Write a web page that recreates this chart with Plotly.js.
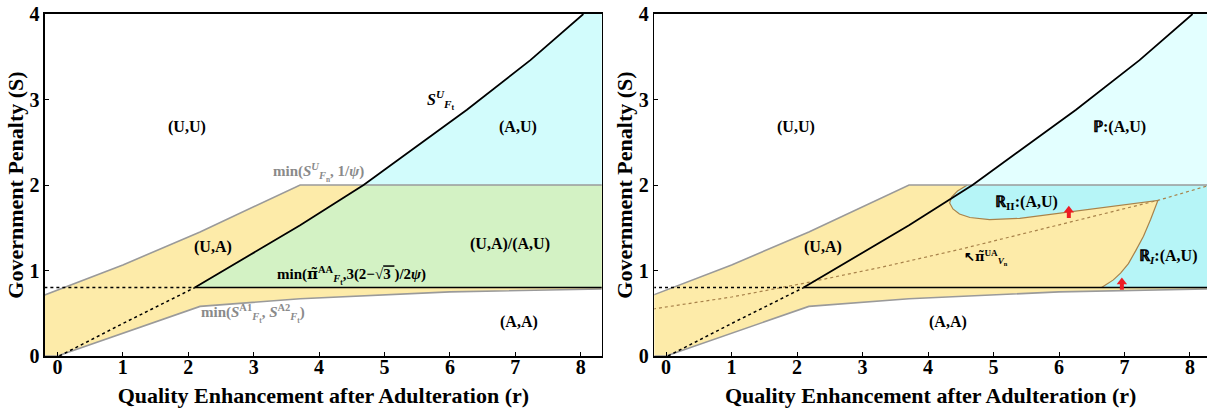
<!DOCTYPE html>
<html><head><meta charset="utf-8">
<script src="https://cdn.plot.ly/plotly-3.0.1.min.js"></script>
<style>html,body{margin:0;padding:0;background:#fff}</style>
</head><body>
<div id="chart" style="width:1207px;height:419px"></div>
<script>
// ---------- data ----------
const xTicks = [0, 1, 2, 3, 4, 5, 6, 7, 8];
const yTicks = [0, 1, 2, 3, 4];
const xEnd = 8.4;
// upper gray boundary  min(S_Fn^U, 1/psi)
const upperR = [-0.2, 0, 1, 2.18, 3.0, 3.71, 8.4];
const upperS = [0.712, 0.772, 1.065, 1.45, 1.74, 2.0, 2.0];
// lower gray boundary  min(S_Ft^A1, S_Ft^A2)
const lowerR = [-0.2, 0.0, 2.18, 3.71, 6.0, 8.4];
const lowerS = [0, 0, 0.58, 0.67, 0.75, 0.785];
// black curve S_Ft^U (dotted part and solid part)
const curveDotR = [0.03, 1.0, 2.1];
const curveDotS = [0, 0.38, 0.8];
const curveR = [2.1, 3.0, 3.71, 4.68, 5.24, 6.26, 7.23, 8.04];
const curveS = [0.8, 1.21, 1.53, 2.0, 2.31, 2.88, 3.46, 4.0];
// horizontal threshold min(pi_Ft^AA, 3(2-sqrt3)/2psi)
const floorS = 0.8;
const floorKinkR = 2.1;
// right panel: dotted pi_Vn^UA
const piR = [-0.2, 1, 2.1, 3.3, 4.5, 5.8, 7.51, 8.4];
const piS = [0.55, 0.69, 0.85, 1.04, 1.25, 1.5, 1.82, 2.02];
// right panel: lower edge of R_II (from y=2 around the tip to the corner)
const r2R = [4.60, 4.45, 4.36, 4.33, 4.38, 4.48, 4.64, 4.94, 5.40, 6.12, 6.83, 7.51];
const r2S = [2.0, 1.93, 1.86, 1.79, 1.72, 1.66, 1.62, 1.595, 1.61, 1.68, 1.75, 1.82];
// right panel: left edge of R_I (from the corner down to the floor)
const r1R = [7.51, 7.40, 7.29, 7.17, 7.06, 6.94, 6.83, 6.65];
const r1S = [1.82, 1.60, 1.40, 1.23, 1.08, 0.97, 0.89, 0.80];
// red arrows (tip positions)
const arrowR = [6.15, 6.96];
const arrowS = [1.74, 0.90];

// ---------- colours ----------
const cYellow = '#FDEBA9', cGreen = '#D3F2C4', cCyanL = '#D2FCFC';
const cCyanP = '#E3FFFF', cCyanR = '#B6F5F7';
const cGray = '#9a9a9a', cBrown = '#A8824A', cRed = '#ee1c24';
const FF = 'Liberation Serif, Times New Roman, serif';
const PT = '<span style="font-family:\'DejaVu Serif\'">π̃</span>';

function fillTrace(xs, ys, color, xa, ya) {
  return {x: xs, y: ys, type: 'scatter', mode: 'lines', fill: 'toself', fillcolor: color,
          line: {width: 0, color: color}, hoverinfo: 'skip', showlegend: false, xaxis: xa, yaxis: ya};
}
function lineTrace(xs, ys, color, width, dash, xa, ya) {
  return {x: xs, y: ys, type: 'scatter', mode: 'lines', line: {color: color, width: width, dash: dash},
          hoverinfo: 'skip', showlegend: false, xaxis: xa, yaxis: ya};
}

// polygons built from the arrays
const bandX = upperR.concat(lowerR.slice().reverse());
const bandY = upperS.concat(lowerS.slice().reverse());
const lowIdx = curveS.map((s, i) => i).filter(i => curveS[i] <= 2.0);
const highIdx = curveS.map((s, i) => i).filter(i => curveS[i] >= 2.0);
const greenX = lowIdx.map(i => curveR[i]).concat([xEnd, xEnd]);
const greenY = lowIdx.map(i => curveS[i]).concat([2.0, floorS]);
const cyanX = highIdx.map(i => curveR[i]).concat([xEnd, xEnd]);
const cyanY = highIdx.map(i => curveS[i]).concat([4.0, 2.0]);
const rX = r2R.concat(r1R.slice(1)).concat([xEnd, xEnd]);
const rY = r2S.concat(r1S.slice(1)).concat([floorS, 2.0]);

const traces = [];
['x', 'x2'].forEach((xa, k) => {
  const ya = k === 0 ? 'y' : 'y2';
  traces.push(fillTrace(bandX, bandY, cYellow, xa, ya));
  if (k === 0) {
    traces.push(fillTrace(greenX, greenY, cGreen, xa, ya));
    traces.push(fillTrace(cyanX, cyanY, cCyanL, xa, ya));
  } else {
    traces.push(fillTrace(rX, rY, cCyanR, xa, ya));
    traces.push(fillTrace(cyanX, cyanY, cCyanP, xa, ya));
    traces.push(lineTrace(piR, piS, cBrown, 1.2, 'dot', xa, ya));
    traces.push(lineTrace(r2R.concat(r1R.slice(1)), r2S.concat(r1S.slice(1)), cBrown, 1.2, 'solid', xa, ya));
  }
  traces.push(lineTrace(upperR, upperS, cGray, 1.6, 'solid', xa, ya));
  traces.push(lineTrace(lowerR, lowerS, cGray, 1.6, 'solid', xa, ya));
  traces.push(lineTrace([-0.2, floorKinkR], [floorS, floorS], '#000', 1.5, 'dot', xa, ya));
  traces.push(lineTrace([floorKinkR, xEnd], [floorS, floorS], '#000', 1.5, 'solid', xa, ya));
  traces.push(lineTrace(curveDotR, curveDotS, '#000', 1.5, 'dot', xa, ya));
  traces.push(lineTrace(curveR, curveS, '#000', 1.8, 'solid', xa, ya));
});
// red up-arrows in the right panel: shaft + head
arrowR.forEach((r, i) => {
  traces.push(lineTrace([r, r], [arrowS[i] - 0.125, arrowS[i] - 0.045], cRed, 4, 'solid', 'x2', 'y2'));
  traces.push({x: [r], y: [arrowS[i] - 0.035], type: 'scatter', mode: 'markers', xaxis: 'x2', yaxis: 'y2',
    marker: {symbol: 'triangle-up', size: 9, color: cRed, line: {width: 0}}, hoverinfo: 'skip', showlegend: false});
});

function axisX(domain, range, anchor) {
  return {domain: domain, range: range, anchor: anchor, tickvals: xTicks, ticktext: xTicks.map(String),
    ticks: 'inside', ticklen: 4, tickcolor: '#000', showline: true, linecolor: '#000', linewidth: 1.6,
    mirror: true, showgrid: false, zeroline: false, ticklabelstandoff: -8,
    tickfont: {family: FF, size: 20, color: '#000', weight: 'bold'},
    title: {text: 'Quality Enhancement after Adulteration (r)', standoff: 11,
            font: {family: FF, size: 22, color: '#000', weight: 'bold'}}};
}
function axisY(anchor, mirror) {
  return {domain: [0, 1], range: [0, 4], anchor: anchor, tickvals: yTicks, ticktext: yTicks.map(String),
    ticks: 'inside', ticklen: 4, tickcolor: '#000', showline: true, linecolor: '#000', linewidth: 1.6,
    mirror: mirror, showgrid: false, zeroline: false,
    tickfont: {family: FF, size: 20, color: '#000', weight: 'bold'},
    title: {text: 'Government Penalty (S)', standoff: 0,
            font: {family: FF, size: 22, color: '#000', weight: 'bold'}}};
}

function lab(x, y, text, xr, yr, size, color) {
  return {x: x, y: y, xref: xr, yref: yr, text: text, showarrow: false,
          font: {family: FF, size: size || 16, color: color || '#000', weight: 'bold'}};
}
const annotations = [
  lab(1.98, 2.68, '(U,U)', 'x', 'y'),
  lab(7.04, 2.68, '(A,U)', 'x', 'y'),
  lab(2.38, 1.27, '(U,A)', 'x', 'y'),
  lab(6.92, 1.31, '(U,A)/(A,U)', 'x', 'y'),
  lab(7.06, 0.40, '(A,A)', 'x', 'y'),
  lab(5.85, 3.0, '<i>S</i><sup><i>U</i></sup><sub><i>F</i><sub>t</sub></sub>', 'x', 'y', 16),
  lab(3.99, 2.15, 'min(<i>S</i><sup><i>U</i></sup><sub><i>F</i><sub>n</sub></sub>, 1/<i>ψ</i>)', 'x', 'y', 15, '#8a8a8a'),
  lab(4.5, 0.94, 'min(' + PT + '<sup>AA</sup><sub><i>F</i><sub>t</sub></sub>,3(2−√<span style="text-decoration:overline">3 </span>)/2<i>ψ</i>)', 'x', 'y', 15),
  lab(2.99, 0.50, 'min(<i>S</i><sup>A1</sup><sub><i>F</i><sub>t</sub></sub>, <i>S</i><sup>A2</sup><sub><i>F</i><sub>t</sub></sub>)', 'x', 'y', 15, '#8a8a8a'),
  lab(1.98, 2.68, '(U,U)', 'x2', 'y2'),
  lab(6.93, 2.68, 'ℙ:(A,U)', 'x2', 'y2'),
  lab(5.5, 1.8, 'ℝ<sub>II</sub>:(A,U)', 'x2', 'y2'),
  lab(7.67, 1.16, 'ℝ<sub><i>I</i></sub>:(A,U)', 'x2', 'y2'),
  lab(2.39, 1.28, '(U,A)', 'x2', 'y2'),
  lab(4.30, 0.40, '(A,A)', 'x2', 'y2'),
  lab(4.88, 1.15, '↖' + PT + '<sup>UA</sup><sub><i>V</i><sub>n</sub></sub>', 'x2', 'y2', 13),
];

const layout = {
  width: 1207, height: 419, margin: {l: 0, r: 0, t: 14, b: 63},
  paper_bgcolor: '#fff', plot_bgcolor: '#fff', showlegend: false,
  xaxis: axisX([0.0373, 0.4985], [-0.19, 8.32], 'y'),
  yaxis: axisY('x', true),
  xaxis2: axisX([0.5421, 1.0], [-0.18, 8.26], 'y2'),
  yaxis2: axisY('x2', false),
  annotations: annotations
};
Plotly.newPlot('chart', traces, layout, {displayModeBar: false, staticPlot: true});
</script>
</body></html>
